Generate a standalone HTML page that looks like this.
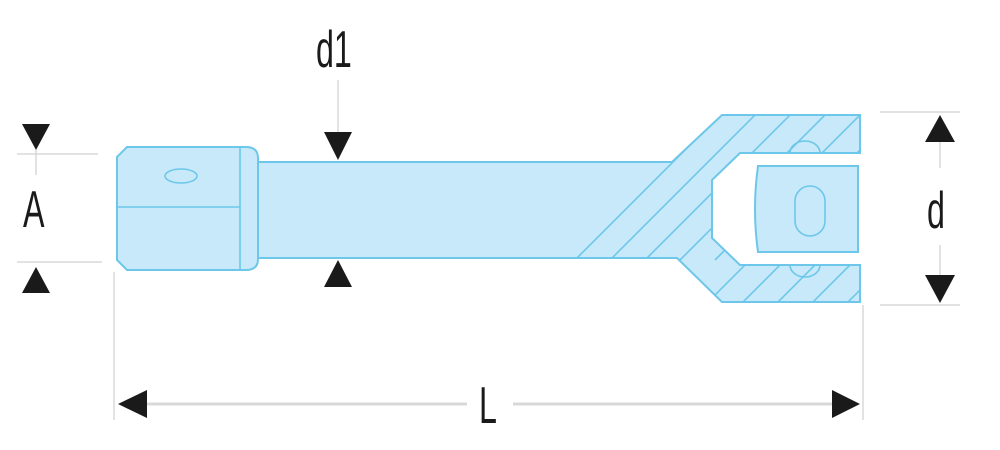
<!DOCTYPE html>
<html><head><style>html,body{margin:0;padding:0;background:#fff}svg{display:block}
text{font-family:"Liberation Sans",sans-serif;fill:#1a1a1a}</style></head><body>
<svg width="1000" height="450" viewBox="0 0 1000 450" xmlns="http://www.w3.org/2000/svg">
<defs><clipPath id="fk"><path d="M560,162 L672,162 L722,115 L860,115 L860,153 L740,153 L712,180 L712,238 L740,265 L860,265 L860,302 L722,302 L677,258 L560,258 Z"/></clipPath></defs>
<g stroke="#d8d8d8" stroke-width="1.5" fill="none">
<line x1="17" y1="154" x2="98" y2="154"/><line x1="17" y1="262" x2="102" y2="262"/>
<line x1="36" y1="150" x2="36" y2="175"/>
<line x1="338" y1="80" x2="338" y2="132"/>
<line x1="880" y1="112" x2="960" y2="112"/><line x1="880" y1="305" x2="960" y2="305"/>
<line x1="940" y1="142" x2="940" y2="168"/><line x1="940" y1="245" x2="940" y2="275"/>
<line x1="114" y1="272" x2="114" y2="420"/><line x1="863" y1="305" x2="863" y2="420"/>
<line x1="147" y1="404" x2="467" y2="404" stroke-width="3"/><line x1="513" y1="404" x2="832" y2="404" stroke-width="3"/>
</g>
<g fill="#1a1a1a">
<polygon points="22,124 50,124 36,150"/><polygon points="22,293 50,293 36,267"/>
<polygon points="324,132 352,132 338,160"/><polygon points="324,287 352,287 338,260"/>
<polygon points="925,142 955,142 940,115"/><polygon points="925,275 955,275 940,303"/>
<polygon points="147,390 147,418 118,404"/><polygon points="832,390 832,418 860,404"/>
</g>
<g stroke="#6cc7ea" stroke-width="2" fill="#c8e9f9">
<path d="M255,162 L672,162 L722,115 L860,115 L860,153 L740,153 L712,180 L712,238 L740,265 L860,265 L860,302 L722,302 L677,258 L255,258 Z"/>
<path d="M127,147 L246,147 Q258,147 258,158 L258,259 Q258,270 246,270 L127,270 L117,260 L117,157 Z"/>
<path d="M758,166 L858,166 L858,252 L758,252 Q752,209 758,166 Z"/>
</g>
<g stroke="#6cc7ea" stroke-width="1.6" fill="none">
<line x1="240" y1="147" x2="240" y2="270"/><line x1="117" y1="207" x2="240" y2="207"/>
<ellipse cx="181" cy="176" rx="16" ry="7"/>
<rect x="795" y="186" width="30" height="50" rx="15"/>
<path d="M790,153 A15,12 0 0 1 820,153"/><path d="M790,265 A15,12 0 0 0 820,265"/>
<g clip-path="url(#fk)">
<line x1="575" y1="260" x2="760" y2="75"/><line x1="610" y1="260" x2="795" y2="75"/>
<line x1="645" y1="260" x2="830" y2="75"/><line x1="680" y1="260" x2="865" y2="75"/>
<line x1="715" y1="260" x2="900" y2="75"/>
<line x1="670" y1="340" x2="900" y2="110"/><line x1="705" y1="340" x2="935" y2="110"/>
<line x1="740" y1="340" x2="970" y2="110"/><line x1="775" y1="340" x2="1005" y2="110"/>
<line x1="810" y1="340" x2="1040" y2="110"/><line x1="845" y1="340" x2="1075" y2="110"/>
</g>
</g>
<g font-size="52">
<text x="0" y="0" transform="translate(316,67) scale(0.62,1)">d1</text>
<text x="0" y="0" transform="translate(23,227) scale(0.62,1)">A</text>
<text x="0" y="0" transform="translate(927,228) scale(0.62,1)">d</text>
<text x="0" y="0" transform="translate(479,423) scale(0.62,1)">L</text>
</g>
</svg></body></html>
